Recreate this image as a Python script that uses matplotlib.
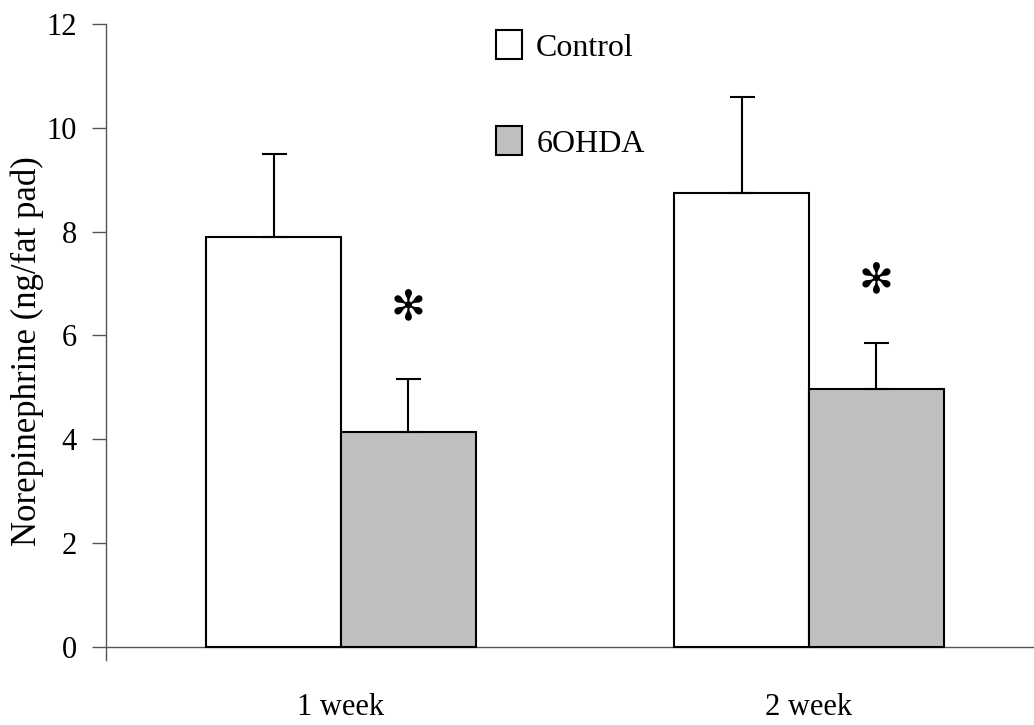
import numpy as np
import matplotlib
matplotlib.use("Agg")
import matplotlib.pyplot as plt

plt.rcParams["font.family"] = ["Liberation Serif", "DejaVu Serif"]

groups = ["1 week", "2 week"]
series = ["Control", "6OHDA"]
control_mean = [7.90, 8.75]
control_sem = [1.60, 1.85]
ohda_mean = [4.14, 4.97]
ohda_sem = [1.02, 0.89]
star_y = [6.55, 7.07]

fig = plt.figure(figsize=(10.34, 7.25), dpi=100)
ax = fig.add_axes([0.1025, 0.0897, 0.8975, 0.8773])

x = np.arange(len(groups))
w = 0.288
zero = np.zeros(len(groups))

ax.bar(x - w / 2, control_mean, w, color="white", edgecolor="black",
       linewidth=1.5, label=series[0], zorder=2)
ax.bar(x + w / 2, ohda_mean, w, color="#c0c0c0", edgecolor="black",
       linewidth=1.5, label=series[1], zorder=2)

# one-sided (upper) error bars
eb = dict(fmt="none", ecolor="black", elinewidth=1.5, capsize=9, capthick=1.5, zorder=3)
ax.errorbar(x - w / 2, control_mean, yerr=[zero, control_sem], **eb)
ax.errorbar(x + w / 2, ohda_mean, yerr=[zero, ohda_sem], **eb)

# significance markers over the 6OHDA bars
for xi, yi in zip(x + w / 2, star_y):
    ax.text(xi, yi, "\u273b", fontsize=30, ha="center", va="center",
            family="DejaVu Sans")

ax.set_xlim(-0.502, 1.481)
ax.set_ylim(-0.25, 12)
ax.set_yticks(np.arange(0, 13, 2))
ax.set_xticks(x)
ax.set_xticklabels(groups)
ax.tick_params(axis="x", length=0, pad=24, labelsize=22)
ax.tick_params(axis="y", direction="out", length=10, width=1, color="#555555",
               labelsize=22, pad=11)

for s in ["top", "right", "bottom"]:
    ax.spines[s].set_visible(False)
ax.spines["left"].set_color("#555555")
ax.spines["left"].set_linewidth(1)
ax.axhline(0, color="#555555", linewidth=1, zorder=1)

ax.set_ylabel("Norepinephrine (ng/fat pad)", fontsize=25, va="center")
ax.yaxis.set_label_coords(-0.085, 0.486)

ax.legend(loc="upper left", bbox_to_anchor=(0.403, 1.015), frameon=False,
          fontsize=23, handlelength=0.81, handleheight=1.0, handletextpad=0.45,
          labelspacing=2.0, borderpad=0)

fig.savefig("out.png", dpi=100)
